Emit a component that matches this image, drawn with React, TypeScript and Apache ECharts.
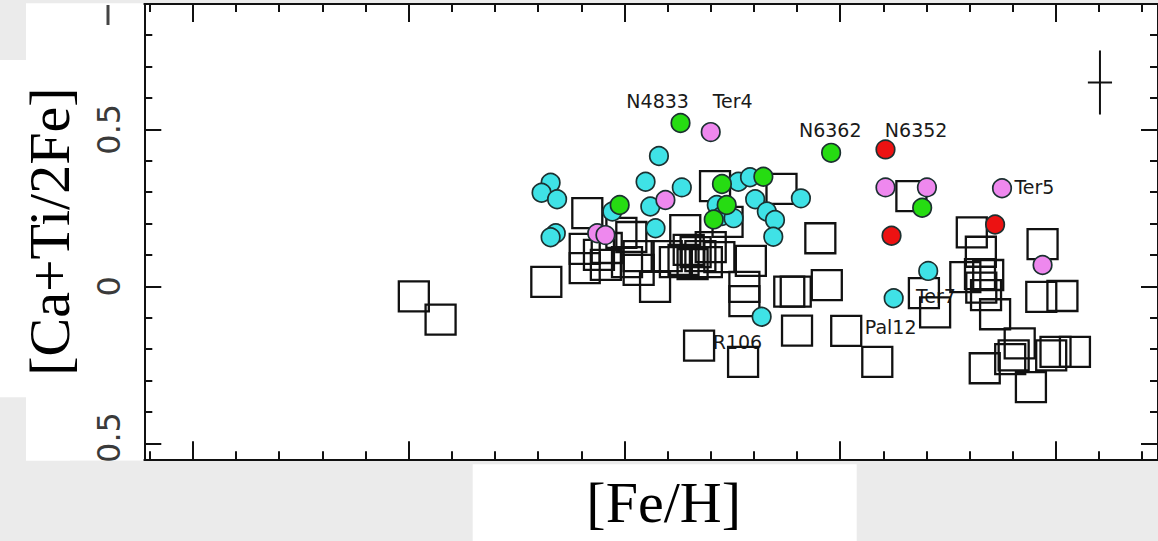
import React, { useEffect, useRef } from "react";
import * as echarts from "echarts";

// ---- axis ranges & ticks ----
const xRange = [-2.1126, 0.2365];
const yRange = [-0.551, 0.899];
const xMajorTicks = [-2, -1.5, -1, -0.5, 0];
const xMinorTicks = [-2.1, -1.9, -1.8, -1.7, -1.6, -1.4, -1.3, -1.2, -1.1, -0.9, -0.8, -0.7, -0.6, -0.4, -0.3, -0.2, -0.1, 0.1, 0.2];
const yMajorTicks = [-0.5, 0, 0.5];
const yMinorTicks = [-0.4, -0.3, -0.2, -0.1, 0.1, 0.2, 0.3, 0.4, 0.6, 0.7, 0.8];
const yTickLabels = [-0.5, 0, 0.5];

// ---- data ----
const fieldStars = [
  [-1.488, -0.032], [-1.426, -0.106], [-1.181, 0.014], [-1.086, 0.233], [-1.092, 0.119],
  [-1.092, 0.058], [-1.007, 0.17], [-0.984, 0.157], [-0.967, 0.096], [-0.967, 0.052],
  [-0.929, -0.002], [-1.041, 0.122], [-1.043, 0.068], [-1.059, 0.1], [-0.902, 0.096],
  [-0.859, 0.179], [-0.842, 0.071], [-0.824, 0.096], [-0.8, 0.125], [-0.78, 0.093],
  [-0.851, 0.116], [-0.863, 0.084], [-0.835, 0.109], [-0.809, 0.077], [-0.883, 0.077],
  [-0.994, 0.077], [-0.761, 0.205], [-0.79, 0.319], [-0.636, 0.31],
  [-0.707, 0.081], [-0.722, -0.002], [-0.722, -0.047], [-0.618, -0.017], [-0.603, -0.017],
  [-0.6, -0.141], [-0.827, -0.189], [-0.725, -0.241], [-0.546, 0.153], [-0.531, 0.004],
  [-0.486, -0.142], [-0.414, -0.241], [-0.335, 0.287], [-0.306, -0.022], [-0.28, -0.083],
  [-0.195, 0.172], [-0.174, 0.11], [-0.21, 0.029], [-0.176, 0.039], [-0.157, 0.036],
  [-0.173, -0.004], [-0.162, -0.028], [-0.141, -0.089], [-0.031, 0.134], [-0.034, -0.034],
  [0.015, -0.031], [-0.106, -0.232], [-0.084, -0.182], [-0.165, -0.261], [-0.058, -0.321],
  [-0.011, -0.22], [-0.001, -0.209], [0.044, -0.209], [-0.098, -0.22],
];
const cyanClusters = [
  [-0.92, 0.415], [-1.171, 0.33], [-1.192, 0.298], [-1.156, 0.277], [-0.951, 0.333],
  [-0.867, 0.315], [-0.94, 0.254], [-1.028, 0.238], [-1.159, 0.169], [-1.171, 0.156],
  [-0.928, 0.185], [-0.736, 0.333], [-0.709, 0.347], [-0.697, 0.277], [-0.67, 0.238],
  [-0.651, 0.211], [-0.655, 0.158], [-0.591, 0.28], [-0.786, 0.259], [-0.774, 0.224],
  [-0.747, 0.217], [-0.682, -0.097], [-0.296, 0.049], [-0.376, -0.038],
];
const greenClusters = [
  [-1.011, 0.259], [-0.774, 0.326], [-0.678, 0.349], [-0.763, 0.259], [-0.793, 0.213],
  [-0.87, 0.52], [-0.521, 0.425], [-0.31, 0.25],
];
const violetClusters = [
  [-0.905, 0.275], [-1.063, 0.169], [-1.044, 0.163], [-0.8, 0.491], [-0.395, 0.315],
  [-0.299, 0.315], [-0.125, 0.312], [-0.031, 0.068],
];
const redClusters = [[-0.395, 0.436], [-0.381, 0.161], [-0.141, 0.197]];
const clusterNames = ["N4833", "Ter4", "N6362", "N6352", "Ter5", "Ter7", "Pal12", "R106"];
const clusterLabelPos = [
  [-0.923, 0.589], [-0.749, 0.59], [-0.523, 0.498], [-0.324, 0.497],
  [-0.05, 0.315], [-0.278, -0.031], [-0.383, -0.129], [-0.738, -0.179],
];
const errorBar = [[0.102, 0.649, 0.028, 0.102]];

const tickStyle = { color: "#111", width: 2 };

function xAxisDef(position: string, ticks: number[], len: number, showLine: boolean, extra: any = {}) {
  return {
    type: "value",
    position,
    min: xRange[0],
    max: xRange[1],
    axisLine: { show: showLine, onZero: false, lineStyle: { color: "#111", width: 2 } },
    axisTick: { show: true, inside: true, length: len, customValues: ticks, lineStyle: tickStyle },
    axisLabel: { show: false },
    splitLine: { show: false },
    ...extra,
  };
}
function yAxisDef(position: string, ticks: number[], len: number, showLine: boolean, extra: any = {}) {
  return {
    type: "value",
    position,
    min: yRange[0],
    max: yRange[1],
    axisLine: { show: showLine, onZero: false, lineStyle: { color: "#111", width: 2 } },
    axisTick: { show: true, inside: true, length: len, customValues: ticks, lineStyle: tickStyle },
    axisLabel: { show: false },
    splitLine: { show: false },
    ...extra,
  };
}

function circleSeries(data: number[][], color: string) {
  return {
    type: "scatter",
    data,
    symbol: "circle",
    symbolSize: 18.5,
    silent: true,
    itemStyle: { color, borderColor: "#1b3030", borderWidth: 1.7, opacity: 1 },
  };
}

export default function App() {
  const ref = useRef<HTMLDivElement>(null);
  useEffect(() => {
    if (!ref.current) return;
    const chart = echarts.init(ref.current, null, { renderer: "svg" });
    const option: any = {
      animation: false,
      backgroundColor: "#ebebeb",
      grid: { left: 144.3, top: 4, width: 1016.2, height: 455.3, containLabel: false },
      xAxis: [
        xAxisDef("bottom", xMajorTicks, 18, true, {
          name: "[Fe/H]",
          nameLocation: "middle",
          nameGap: 14,
          nameTextStyle: {
            fontFamily: "Liberation Serif",
            fontSize: 58,
            color: "#000",
            verticalAlign: "top",
            padding: [0, 0, 0, 25],
          },
        }),
        xAxisDef("bottom", xMinorTicks, 8, false),
        xAxisDef("top", xMajorTicks, 18, true),
        xAxisDef("top", xMinorTicks, 8, false),
      ],
      yAxis: [
        yAxisDef("left", yMajorTicks, 17, true, {
          name: "[Ca+Ti/2Fe]",
          nameLocation: "middle",
          nameGap: 66,
          nameTextStyle: { fontFamily: "Liberation Serif", fontSize: 58, color: "#000" },
          axisLabel: {
            show: true,
            customValues: yTickLabels,
            rotate: 90,
            margin: 19,
            fontFamily: "DejaVu Sans",
            fontSize: 32,
            color: "#3a3a3a",
            formatter: (v: number) => (v === 0 ? "0" : String(v)),
          },
        }),
        yAxisDef("left", yMinorTicks, 8, false),
        yAxisDef("right", yMajorTicks, 17, true),
        yAxisDef("right", yMinorTicks, 8, false),
      ],
      graphic: [
        { type: "rect", z: -10, shape: { x: 26, y: 3.3, width: 1132, height: 457.4 }, style: { fill: "#fff" }, silent: true },
        { type: "rect", z: -10, shape: { x: 0, y: 60, width: 27, height: 337.3 }, style: { fill: "#fff" }, silent: true },
        { type: "rect", z: -10, shape: { x: 472.7, y: 464.3, width: 384, height: 77 }, style: { fill: "#fff" }, silent: true },
        { type: "rect", z: 100, shape: { x: 70, y: 460.7, width: 72, height: 30 }, style: { fill: "#ebebeb" }, silent: true },
        { type: "line", z: 100, shape: { x1: 108, y1: 5, x2: 108, y2: 25 }, style: { stroke: "#444", lineWidth: 3 }, silent: true },
      ],
      series: [
        {
          type: "custom",
          silent: true,
          data: clusterLabelPos,
          renderItem: (params: any, api: any) => {
            const p = api.coord([api.value(0), api.value(1)]);
            return {
              type: "text",
              x: p[0],
              y: p[1],
              style: {
                text: clusterNames[params.dataIndex],
                fill: "#1a1a1a",
                font: '19px "DejaVu Sans"',
                align: "center",
                verticalAlign: "middle",
              },
            };
          },
        },
        {
          type: "scatter",
          data: fieldStars,
          symbol: "rect",
          symbolSize: 30,
          silent: true,
          itemStyle: { color: "rgba(0,0,0,0)", borderColor: "#111", borderWidth: 2.3, opacity: 1 },
        },
        circleSeries(cyanClusters, "#3fe2e6"),
        circleSeries(greenClusters, "#26dc12"),
        circleSeries(violetClusters, "#ee88ee"),
        circleSeries(redClusters, "#ec1212"),
        {
          type: "custom",
          silent: true,
          data: errorBar,
          renderItem: (_params: any, api: any) => {
            const x = api.value(0), y = api.value(1), xe = api.value(2), ye = api.value(3);
            const l = api.coord([x - xe, y]);
            const r = api.coord([x + xe, y]);
            const t = api.coord([x, y + ye]);
            const b = api.coord([x, y - ye]);
            return {
              type: "group",
              children: [
                { type: "line", shape: { x1: l[0], y1: l[1], x2: r[0], y2: r[1] }, style: { stroke: "#111", lineWidth: 2 } },
                { type: "line", shape: { x1: t[0], y1: t[1], x2: b[0], y2: b[1] }, style: { stroke: "#111", lineWidth: 2 } },
              ],
            };
          },
        },
      ],
    };
    chart.setOption(option);
    return () => chart.dispose();
  }, []);
  return (
    <div
      ref={ref}
      style={{ position: "absolute", left: 0, top: 0, width: 1158, height: 541 }}
    />
  );
}
